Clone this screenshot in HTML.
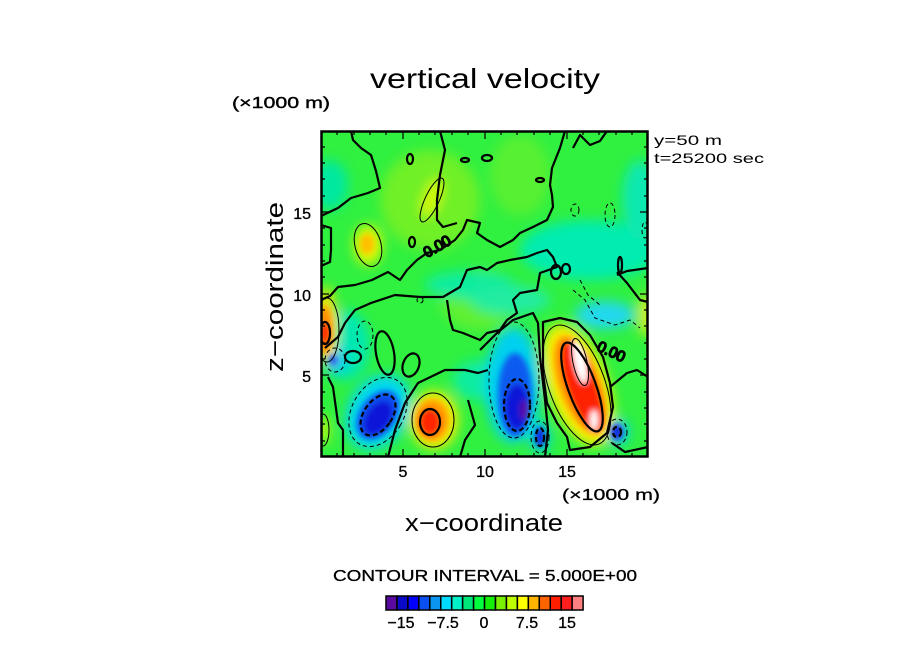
<!DOCTYPE html>
<html><head><meta charset="utf-8"><style>
html,body{margin:0;padding:0;background:#fff;}
svg{display:block;}
text{font-family:"Liberation Sans",sans-serif;fill:#000;}
</style></head><body>
<svg width="904" height="654" viewBox="0 0 904 654" xmlns="http://www.w3.org/2000/svg">
<defs>
<clipPath id="pc"><rect x="321" y="131" width="327" height="326"/></clipPath>
<filter id="b1" x="-30%" y="-30%" width="160%" height="160%"><feGaussianBlur stdDeviation="6"/></filter>
<filter id="b2" x="-30%" y="-30%" width="160%" height="160%"><feGaussianBlur stdDeviation="2.8"/></filter>
</defs>

<!-- title -->
<text x="485" y="88" font-size="28" text-anchor="middle" textLength="230" lengthAdjust="spacingAndGlyphs">vertical velocity</text>
<text x="232" y="108" font-size="16" stroke="#000" stroke-width="0.4" textLength="98" lengthAdjust="spacingAndGlyphs">(×1000 m)</text>
<text x="654" y="145" font-size="14" textLength="68" lengthAdjust="spacingAndGlyphs">y=50 m</text>
<text x="654" y="163" font-size="14" textLength="110" lengthAdjust="spacingAndGlyphs">t=25200 sec</text>

<g clip-path="url(#pc)">
<rect x="321" y="131" width="327" height="326" fill="#30f040"/>
<g filter="url(#b1)">
  <ellipse cx="430" cy="200" rx="50" ry="50" fill="#70f028"/>
  <ellipse cx="480" cy="300" rx="40" ry="30" fill="#60f030"/>
  <ellipse cx="520" cy="175" rx="30" ry="40" fill="#58f030"/>
  <ellipse cx="330" cy="185" rx="18" ry="25" fill="#00e8a0"/>
  <ellipse cx="590" cy="250" rx="70" ry="30" fill="#00ecb0"/>
  <ellipse cx="470" cy="285" rx="45" ry="14" fill="#10eca0"/>
  <ellipse cx="640" cy="200" rx="18" ry="40" fill="#10e8b0"/>
  <ellipse cx="345" cy="345" rx="25" ry="35" fill="#00e8b0"/>
  <ellipse cx="510" cy="300" rx="40" ry="15" fill="#20eca0"/>
  <ellipse cx="478" cy="380" rx="25" ry="20" fill="#10eca0"/>
  <ellipse cx="605" cy="315" rx="30" ry="14" fill="#20d8f0"/>
  <ellipse cx="378" cy="412" rx="30" ry="40" transform="rotate(30 378 412)" fill="#00d8f0"/>
  <ellipse cx="513" cy="385" rx="28" ry="58" fill="#00d0f0"/>
  <ellipse cx="335" cy="360" rx="12" ry="14" fill="#00c8f0"/>
  <ellipse cx="617" cy="432" rx="12" ry="14" fill="#00d0f0"/>
  <ellipse cx="540" cy="437" rx="10" ry="16" fill="#00d0f0"/>
  <ellipse cx="578" cy="385" rx="30" ry="64" transform="rotate(-20 578 385)" fill="#ffee00"/>
  <ellipse cx="434" cy="420" rx="24" ry="29" fill="#ffee00"/>
  <ellipse cx="368" cy="245" rx="14" ry="20" fill="#e8f800"/>
  <ellipse cx="432" cy="198" rx="8" ry="20" transform="rotate(20 432 198)" fill="#d8f800"/>
  <ellipse cx="326" cy="325" rx="10" ry="38" fill="#ffe000"/>
  <ellipse cx="646" cy="315" rx="6" ry="22" fill="#ffee00"/>
  <ellipse cx="323" cy="430" rx="5" ry="14" fill="#e8f800"/>
</g>
<g filter="url(#b2)">
  <ellipse cx="378" cy="415" rx="18" ry="27" transform="rotate(35 378 415)" fill="#0a50f0"/>
  <ellipse cx="515" cy="395" rx="17" ry="42" fill="#0a5af0"/>
  <ellipse cx="378" cy="418" rx="12" ry="19" transform="rotate(35 378 418)" fill="#0a14d8"/>
  <ellipse cx="517" cy="407" rx="12" ry="23" fill="#0a14d8"/>
  <ellipse cx="540" cy="437" rx="5" ry="10" fill="#0a2ae0"/>
  <ellipse cx="617" cy="432" rx="6" ry="8" fill="#0a2ae0"/>
  <ellipse cx="333" cy="360" rx="4" ry="5" fill="#0a50f0"/>
  <ellipse cx="524" cy="410" rx="4" ry="10" fill="#5a0aa0"/>
  <ellipse cx="580" cy="385" rx="21" ry="52" transform="rotate(-20 580 385)" fill="#ffa000"/>
  <ellipse cx="432" cy="420" rx="17" ry="21" fill="#ffa000"/>
  <ellipse cx="325" cy="330" rx="7" ry="24" fill="#ff9000"/>
  <ellipse cx="367" cy="244" rx="7" ry="10" fill="#ffc000"/>
  <ellipse cx="582" cy="387" rx="15" ry="48" transform="rotate(-20 582 387)" fill="#ff2000"/>
  <ellipse cx="430" cy="422" rx="11" ry="14" fill="#ff2800"/>
  <ellipse cx="325" cy="333" rx="5" ry="11" fill="#ff2000"/>
  <ellipse cx="580" cy="362" rx="6" ry="22" transform="rotate(-12 580 362)" fill="#ffffff"/>
  <ellipse cx="594" cy="420" rx="4" ry="10" fill="#ffffff"/>
</g>

<g fill="none" stroke="#000" stroke-width="2.2" stroke-linejoin="round">
  <path d="M351,131 L353,140 L361,148 L371,155 L376,171 L380,188 L368,193 L351,198 L338,208 L321,216"/>
  <path d="M321,225 L331,228 L331,250 L330,262 L321,266"/>
  <path d="M321,300 L330,296 L338,287 L355,285 L372,280 L388,272 L400,280 L407,270 L417,260 L427,253 L440,250 L455,240 L463,230 L467,220 L480,223 L477,233 L487,240 L500,247 L513,240 L520,233 L533,227 L547,220 L553,207 L552,195 L550,185 L552,168 L560,148 L565,131"/>
  <path d="M440,131 L445,150 L440,175 L437,200 L437,220 L443,227 L457,223"/>
  <path d="M325,348 L338,337 L345,323 L355,310 L371,303 L395,295 L420,297 L443,297 L460,287 L467,270 L480,267 L487,270 L497,263 L510,260 L527,257 L537,253 L547,250 L553,257 L557,267 L540,273 L537,290 L520,293 L513,300 L517,313 L507,320 L500,330 L487,333 L480,340 L463,333 L453,330 L450,320 L447,300"/>
  <path d="M573,148 L580,135 L590,145 L600,141 L607,131"/>
  <path d="M617,272 L627,283 L640,300 L648,302"/>
  <path d="M617,275 L627,271 L648,268"/>
  <path d="M405,403 L418,383 L445,370 L465,370 L478,373 L488,370"/>
  <path d="M405,403 L395,430 L388,457"/>
  <path d="M328,377 L333,387 L338,423 L343,430 L343,457"/>
  <ellipse cx="385" cy="353" rx="9" ry="22" transform="rotate(-10 385 353)"/>
  <ellipse cx="411" cy="365" rx="8" ry="12" transform="rotate(20 411 365)"/>
  <ellipse cx="353" cy="357" rx="8" ry="6"/>
  <path d="M543,322 L560,318 L577,322 L590,335 L603,357 L610,383 L613,407 L607,433 L590,447 L570,450 L567,437 L557,423 L547,403 L543,373 L543,340 Z"/>
  <path d="M480,350 L497,333 L513,320 L533,313 L538,323 L540,357 L545,400 L548,430 L545,457"/>
  <path d="M460,457 L465,440 L475,425 L468,400"/>
  <path d="M610,387 L627,373 L637,370 L648,377"/>
  <path d="M612,443 L625,452 L648,447"/>
  <ellipse cx="556" cy="272" rx="5" ry="7"/>
  <ellipse cx="566" cy="269" rx="4" ry="5"/>
  <ellipse cx="620" cy="265" rx="2" ry="8"/>
  <ellipse cx="410" cy="159" rx="3" ry="5"/>
  <ellipse cx="465" cy="160" rx="4" ry="2"/>
  <ellipse cx="487" cy="158" rx="5" ry="3"/>
  <ellipse cx="412" cy="242" rx="3" ry="5"/>
  <ellipse cx="540" cy="180" rx="4" ry="2"/>
</g>
<g fill="none" stroke="#000" stroke-width="1">
  <ellipse cx="577" cy="385" rx="28" ry="63" transform="rotate(-20 577 385)"/>
  <ellipse cx="433" cy="420" rx="21" ry="27"/>
  <ellipse cx="368" cy="245" rx="13" ry="22" transform="rotate(-15 368 245)"/>
  <ellipse cx="432" cy="200" rx="7" ry="24" transform="rotate(25 432 200)"/>
  <ellipse cx="327" cy="330" rx="12" ry="32"/>
  <ellipse cx="580" cy="362" rx="7" ry="24" transform="rotate(-12 580 362)"/>
  <ellipse cx="323" cy="430" rx="6" ry="16"/>
</g>
<g fill="none" stroke="#000" stroke-width="2.2">
  <ellipse cx="582" cy="387" rx="14" ry="47" transform="rotate(-20 582 387)"/>
  <ellipse cx="430" cy="422" rx="10" ry="13"/>
  <ellipse cx="325" cy="333" rx="5" ry="11"/>
</g>
<g fill="none" stroke="#000" stroke-width="1" stroke-dasharray="4 3">
  <ellipse cx="378" cy="412" rx="26" ry="37" transform="rotate(30 378 412)"/>
  <ellipse cx="514" cy="380" rx="25" ry="58"/>
  <ellipse cx="617" cy="432" rx="10" ry="13"/>
  <ellipse cx="540" cy="437" rx="9" ry="16"/>
  <ellipse cx="335" cy="360" rx="10" ry="12"/>
  <ellipse cx="365" cy="335" rx="8" ry="14"/>
  <path d="M573,290 L585,300 L595,318 L615,325 L630,320 L640,328"/>
  <path d="M580,280 L588,295 L600,305"/>
  <ellipse cx="610" cy="215" rx="5" ry="12"/>
  <ellipse cx="575" cy="210" rx="4" ry="6"/>
  <ellipse cx="645" cy="230" rx="3" ry="8"/>
  <ellipse cx="420" cy="300" rx="3" ry="3"/>
</g>
<g fill="none" stroke="#000" stroke-width="2.2" stroke-dasharray="5 3">
  <ellipse cx="378" cy="415" rx="14" ry="23" transform="rotate(35 378 415)"/>
  <ellipse cx="517" cy="405" rx="13" ry="26"/>
  <ellipse cx="540" cy="437" rx="4" ry="9"/>
  <ellipse cx="617" cy="432" rx="4" ry="5"/>
</g>
<text x="427" y="258" font-size="15" transform="rotate(-30 427 258)" fill="none" stroke="#000" stroke-width="1.5">0.00</text>
<text x="596" y="350" font-size="15" transform="rotate(25 596 350)" fill="none" stroke="#000" stroke-width="1.5">0.00</text>
</g>

<rect x="321.5" y="131.5" width="326" height="325" fill="none" stroke="#000" stroke-width="2.5"/>
<g stroke="#000" stroke-width="1.2">
  <path d="M321,441h4M321,424h4M321,408h4M321,392h4M321,375h8M321,359h4M321,343h4M321,326h4M321,310h4M321,294h8M321,277h4M321,261h4M321,245h4M321,228h4M321,212h8M321,196h4M321,179h4M321,163h4M321,147h4"/>
  <path d="M648,441h-4M648,424h-4M648,408h-4M648,392h-4M648,375h-8M648,359h-4M648,343h-4M648,326h-4M648,310h-4M648,294h-8M648,277h-4M648,261h-4M648,245h-4M648,228h-4M648,212h-8M648,196h-4M648,179h-4M648,163h-4M648,147h-4"/>
  <path d="M337,457v-4M354,457v-4M370,457v-4M386,457v-4M403,457v-8M419,457v-4M435,457v-4M452,457v-4M468,457v-4M485,457v-8M501,457v-4M517,457v-4M534,457v-4M550,457v-4M567,457v-8M583,457v-4M599,457v-4M616,457v-4M632,457v-4"/>
  <path d="M337,131v4M354,131v4M370,131v4M386,131v4M403,131v8M419,131v4M435,131v4M452,131v4M468,131v4M485,131v8M501,131v4M517,131v4M534,131v4M550,131v4M567,131v8M583,131v4M599,131v4M616,131v4M632,131v4"/>
</g>

<g font-size="16" stroke="#000" stroke-width="0.3">
<text x="311" y="219" text-anchor="end">15</text>
<text x="311" y="301" text-anchor="end">10</text>
<text x="311" y="382" text-anchor="end">5</text>
<text x="403" y="477" text-anchor="middle">5</text>
<text x="485" y="477" text-anchor="middle">10</text>
<text x="567" y="477" text-anchor="middle">15</text>
<text x="562" y="500" textLength="98" lengthAdjust="spacingAndGlyphs">(×1000 m)</text>
</g>
<text x="484" y="531" font-size="24" text-anchor="middle" textLength="158" lengthAdjust="spacingAndGlyphs">x−coordinate</text>
<text x="0" y="0" font-size="24" text-anchor="middle" transform="translate(283,287) rotate(-90)" textLength="170" lengthAdjust="spacingAndGlyphs">z−coordinate</text>

<text x="333" y="581" font-size="16" stroke="#000" stroke-width="0.3" textLength="304" lengthAdjust="spacingAndGlyphs">CONTOUR INTERVAL = 5.000E+00</text>

<g stroke="#000" stroke-width="1.5">
<rect x="386" y="596" width="10.95" height="14" fill="#5a0aa0"/>
<rect x="396.95" y="596" width="10.95" height="14" fill="#0a0ac8"/>
<rect x="407.9" y="596" width="10.95" height="14" fill="#0000ff"/>
<rect x="418.85" y="596" width="10.95" height="14" fill="#0a50f0"/>
<rect x="429.8" y="596" width="10.95" height="14" fill="#0a96f0"/>
<rect x="440.75" y="596" width="10.95" height="14" fill="#00dcff"/>
<rect x="451.7" y="596" width="10.95" height="14" fill="#00f0c8"/>
<rect x="462.65" y="596" width="10.95" height="14" fill="#00e678"/>
<rect x="473.6" y="596" width="10.95" height="14" fill="#00ff3c"/>
<rect x="484.55" y="596" width="10.95" height="14" fill="#14f00a"/>
<rect x="495.5" y="596" width="10.95" height="14" fill="#78f000"/>
<rect x="506.45" y="596" width="10.95" height="14" fill="#beff00"/>
<rect x="517.4" y="596" width="10.95" height="14" fill="#ffff00"/>
<rect x="528.35" y="596" width="10.95" height="14" fill="#ffb400"/>
<rect x="539.3" y="596" width="10.95" height="14" fill="#ff6400"/>
<rect x="550.25" y="596" width="10.95" height="14" fill="#ff1e00"/>
<rect x="561.2" y="596" width="10.95" height="14" fill="#ff1e1e"/>
<rect x="572.15" y="596" width="10.95" height="14" fill="#ff8080"/>
</g>
<g font-size="16" text-anchor="middle" stroke="#000" stroke-width="0.3">
<text x="401" y="628">−15</text>
<text x="443" y="628">−7.5</text>
<text x="484" y="628">0</text>
<text x="527" y="628">7.5</text>
<text x="567" y="628">15</text>
</g>
</svg>
</body></html>
